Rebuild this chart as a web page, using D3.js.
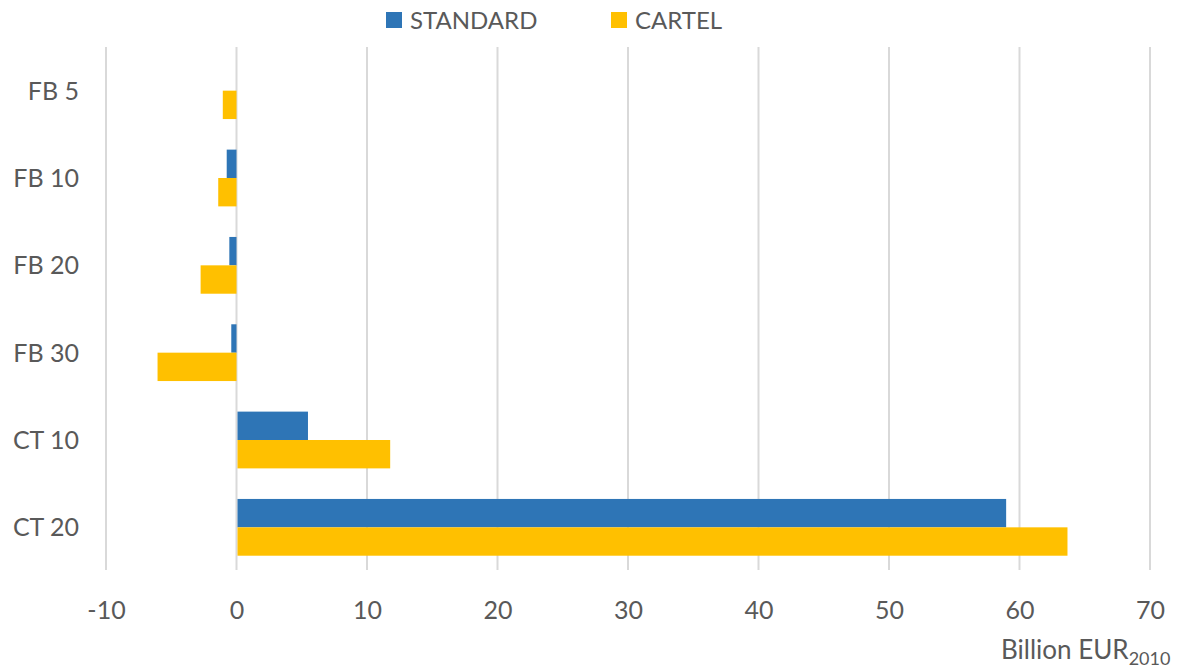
<!DOCTYPE html>
<html>
<head>
<meta charset="utf-8">
<script src="https://cdn.jsdelivr.net/npm/d3@7"></script>
<style>
  html, body { margin: 0; padding: 0; background: #fff; }
  svg { display: block; }
  text { font-family: Lato, "Open Sans", sans-serif; fill: #595959; }
</style>
</head>
<body>
<svg id="chart" width="1181" height="670"></svg>
<script>
const categories = ["FB 5", "FB 10", "FB 20", "FB 30", "CT 10", "CT 20"];
const seriesNames = ["STANDARD", "CARTEL"];
const standardValues = [0, -0.75, -0.55, -0.4, 5.4, 58.9];
const cartelValues = [-1.05, -1.4, -2.75, -6.05, 11.7, 63.6];
const xTicks = [-10, 0, 10, 20, 30, 40, 50, 60, 70];
const colors = ["#2E75B6", "#FFC000"];

const svg = d3.select("#chart");
const plotLeft = 106, plotRight = 1150, plotTop = 47, plotBottom = 571;

const x = d3.scaleLinear().domain([-10, 70]).range([plotLeft, plotRight]);
const y = d3.scaleBand().domain(categories).range([plotTop, plotBottom])
  .paddingInner(0.35).paddingOuter(0.175);
const ySub = d3.scaleBand().domain(seriesNames).range([0, y.bandwidth()]);

// gridlines
svg.append("g").selectAll("line").data(xTicks).join("line")
  .attr("x1", d => x(d)).attr("x2", d => x(d))
  .attr("y1", plotTop).attr("y2", plotBottom - 1)
  .attr("stroke", "#D9D9D9").attr("stroke-width", 2);

// bars
const data = [];
categories.forEach((c, i) => {
  data.push({ cat: c, s: seriesNames[0], v: standardValues[i], col: colors[0] });
  data.push({ cat: c, s: seriesNames[1], v: cartelValues[i], col: colors[1] });
});
svg.append("g").selectAll("rect").data(data.filter(d => d.v !== 0)).join("rect")
  .attr("x", d => Math.min(x(0), x(d.v)) + (d.v > 0 ? 1 : 0))
  .attr("width", d => Math.abs(x(d.v) - x(0)))
  .attr("y", d => y(d.cat) + ySub(d.s))
  .attr("height", ySub.bandwidth())
  .attr("fill", d => d.col);

// x axis labels
const xAxis = d3.axisBottom(x).tickValues(xTicks).tickSize(0).tickPadding(0).tickFormat(d => String(d));
const gx = svg.append("g").attr("transform", `translate(0, 601)`).call(xAxis);
gx.select(".domain").remove();
gx.selectAll("text").style("font-size", "25px").attr("fill", "#595959")
  .style("font-family", "Lato, 'Open Sans', sans-serif").attr("dy", "0.72em");

// y axis labels
const yAxis = d3.axisLeft(y).tickSize(0).tickPadding(0);
const gy = svg.append("g").attr("transform", `translate(79, 0)`).call(yAxis);
gy.select(".domain").remove();
gy.selectAll("text").style("font-size", "25px").attr("fill", "#595959")
  .style("font-family", "Lato, 'Open Sans', sans-serif").attr("dy", "0.36em");

// x axis title
const t = svg.append("text").attr("x", 1001).attr("y", 659).style("font-size", "26px");
t.append("tspan").text("Billion EUR");
t.append("tspan").attr("dy", 6).style("font-size", "18px").text("2010");

// legend
const legendX = [386, 611];
const lg = svg.append("g").selectAll("g").data(seriesNames).join("g")
  .attr("transform", (d, i) => `translate(${legendX[i]}, 12)`);
lg.append("rect").attr("width", 16).attr("height", 16).attr("fill", (d, i) => colors[i]);
lg.append("text").attr("x", 24).attr("y", 17).style("font-size", "24px").text(d => d);
</script>
</body>
</html>
